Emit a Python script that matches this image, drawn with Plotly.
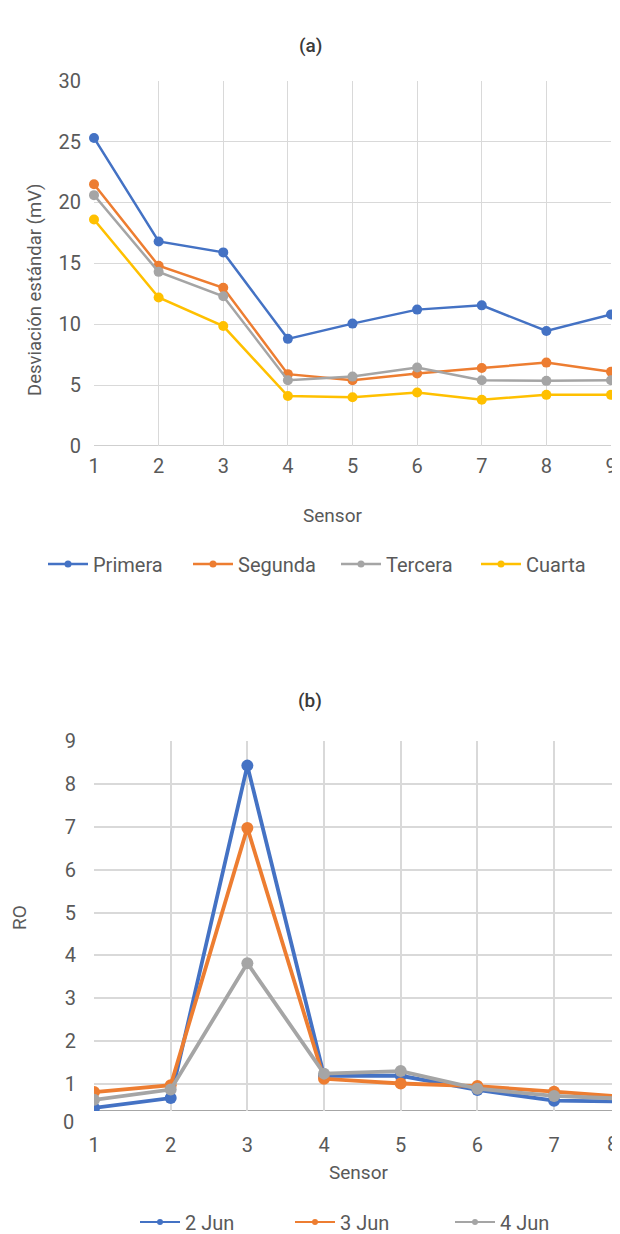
import plotly.graph_objects as go

# ---------- data ----------
sensors_a = [1, 2, 3, 4, 5, 6, 7, 8, 9]
primera = [25.3, 16.8, 15.9, 8.8, 10.05, 11.2, 11.55, 9.45, 10.8]
segunda = [21.5, 14.8, 13.0, 5.9, 5.4, 5.95, 6.4, 6.85, 6.1]
tercera = [20.6, 14.3, 12.3, 5.4, 5.7, 6.45, 5.4, 5.35, 5.4]
cuarta = [18.6, 12.2, 9.85, 4.1, 4.0, 4.4, 3.8, 4.2, 4.2]

sensors_b = [1, 2, 3, 4, 5, 6, 7, 8]
jun2 = [0.45, 0.68, 8.42, 1.2, 1.2, 0.87, 0.62, 0.6]
jun3 = [0.82, 0.98, 6.97, 1.13, 1.02, 0.96, 0.83, 0.7]
jun4 = [0.64, 0.88, 3.82, 1.25, 1.31, 0.9, 0.73, 0.66]

names_a = ["Primera", "Segunda", "Tercera", "Cuarta"]
names_b = ["2 Jun", "3 Jun", "4 Jun"]
ticks_a = [0, 5, 10, 15, 20, 25, 30]
ticks_b = [1, 2, 3, 4, 5, 6, 7, 8, 9]

BLUE, ORANGE, GRAY, YELLOW = "#4472C4", "#ED7D31", "#A5A5A5", "#FFC000"
TXT = "#595959"
GRID = "#D9D9D9"
FONT = "Roboto"

# page has an 8px body margin: figure drawn at (8, 8)
OFF = 8
W, H = 620 - OFF, 1234 - OFF
L = 94 - OFF


def fx(x):  # reference pixel x -> paper fraction
    return (x - OFF - L) / (W - L)


def fy(y):  # reference pixel y -> paper fraction
    return 1 - (y - OFF) / H


def cx(x):  # reference pixel x -> container fraction
    return (x - OFF) / W


def cy(y):
    return 1 - (y - OFF) / H


fig = go.Figure()

legend_pos_a = [48, 193, 341, 481]
legend_pos_b = [140, 295, 455]
legend_keys_a = ["legend", "legend2", "legend3", "legend4"]
legend_keys_b = ["legend5", "legend6", "legend7"]

# chart (a)
for name, vals, col, lk in zip(names_a, [primera, segunda, tercera, cuarta],
                               [BLUE, ORANGE, GRAY, YELLOW], legend_keys_a):
    fig.add_trace(go.Scatter(
        x=sensors_a, y=vals, name=name, mode="lines+markers",
        line=dict(color=col, width=2.5), marker=dict(color=col, size=10),
        xaxis="x", yaxis="y", showlegend=False, cliponaxis=False))
    # legend entry
    fig.add_trace(go.Scatter(
        x=[None], y=[None], name=name, mode="lines+markers",
        line=dict(color=col, width=2.5), marker=dict(color=col, size=7),
        xaxis="x", yaxis="y", legend=lk, showlegend=True))

# chart (b)
for name, vals, col, lk in zip(names_b, [jun2, jun3, jun4], [BLUE, ORANGE, GRAY],
                               legend_keys_b):
    fig.add_trace(go.Scatter(
        x=sensors_b, y=vals, name=name, mode="lines+markers",
        line=dict(color=col, width=3.8), marker=dict(color=col, size=12),
        xaxis="x2", yaxis="y2", showlegend=False, cliponaxis=True))
    fig.add_trace(go.Scatter(
        x=[None], y=[None], name=name, mode="lines+markers",
        line=dict(color=col, width=2.2), marker=dict(color=col, size=6),
        xaxis="x2", yaxis="y2", legend=lk, showlegend=True))

legends = {}
for lk, xp in zip(legend_keys_a, legend_pos_a):
    legends[lk] = dict(orientation="h", xref="container", x=cx(xp - 5), xanchor="left",
                       yref="container", y=cy(564), yanchor="middle",
                       font=dict(size=20, color=TXT), itemwidth=40,
                       bgcolor="rgba(0,0,0,0)")
for lk, xp in zip(legend_keys_b, legend_pos_b):
    legends[lk] = dict(orientation="h", xref="container", x=cx(xp - 5), xanchor="left",
                       yref="container", y=cy(1222), yanchor="middle",
                       font=dict(size=20, color=TXT), itemwidth=40,
                       bgcolor="rgba(0,0,0,0)")

fig.update_layout(
    width=W, height=H,
    margin=dict(l=L, r=0, t=0, b=0, autoexpand=False),
    paper_bgcolor="white", plot_bgcolor="white",
    font=dict(family=FONT, color=TXT, size=19),
    xaxis=dict(domain=[0, fx(611)], range=[1, 9], anchor="y",
               tickvals=sensors_a, showgrid=True, gridcolor=GRID, gridwidth=1.3,
               zeroline=False, showline=False, ticks="", tickfont=dict(size=20),
               ticklabelstandoff=6),
    yaxis=dict(domain=[fy(446), fy(80.7)], range=[0, 30], anchor="x",
               tickvals=ticks_a, showgrid=True, gridcolor=GRID, gridwidth=1.3,
               zeroline=False, showline=False, ticks="", tickfont=dict(size=20),
               ticklabelstandoff=12),
    xaxis2=dict(domain=[0, 1], range=[1, 7.86], anchor="y2",
                tickvals=sensors_b, showgrid=True, gridcolor=GRID, gridwidth=1.5,
                zeroline=False, showline=False, ticks="", tickfont=dict(size=20),
                ticklabelstandoff=20),
    yaxis2=dict(domain=[fy(1111), fy(740.7)], range=[0.38, 9], anchor="x2",
                tickvals=ticks_b, showgrid=True, gridcolor=GRID, gridwidth=1.5,
                zeroline=False, showline=False, ticks="", tickfont=dict(size=20),
                ticklabelstandoff=17),
    **legends,
)

# bottom axis lines
fig.add_shape(type="line", xref="x", yref="y", x0=1, x1=9, y0=0, y1=0,
              line=dict(color="#BFBFBF", width=1.5), layer="below")
fig.add_shape(type="line", xref="x2", yref="y2", x0=1, x1=7.86, y0=0.38, y1=0.38,
              line=dict(color="#A6A6A6", width=2), layer="below")

ann = [
    dict(text="(a)", x=310, y=45, size=19, color="#3A3A3A", weight=500),
    dict(text="(b)", x=310, y=700, size=19, color="#3A3A3A", weight=500),
    dict(text="Sensor", x=332, y=516, size=19, color=TXT, weight=400),
    dict(text="Sensor", x=358, y=1172, size=19, color=TXT, weight=400),
    dict(text="0", x=68, y=1122, size=20, color=TXT, weight=400),
    dict(text="8", x=612, y=1144, size=20, color=TXT, weight=400),
]
for a in ann:
    fig.add_annotation(text=a["text"], xref="paper", yref="paper", x=fx(a["x"]), y=fy(a["y"]),
                       showarrow=False, xanchor="center", yanchor="middle",
                       font=dict(size=a["size"], color=a["color"], family=FONT,
                                 weight=a["weight"]))

fig.add_annotation(text="Desviación estándar (mV)", xref="paper", yref="paper",
                   x=fx(35), y=fy(290), textangle=-90, showarrow=False,
                   xanchor="center", yanchor="middle",
                   font=dict(size=18.5, color=TXT, family=FONT))
fig.add_annotation(text="RO", xref="paper", yref="paper",
                   x=fx(20), y=fy(918), textangle=-90, showarrow=False,
                   xanchor="center", yanchor="middle",
                   font=dict(size=19, color=TXT, family=FONT))

fig.write_html("out.html")
